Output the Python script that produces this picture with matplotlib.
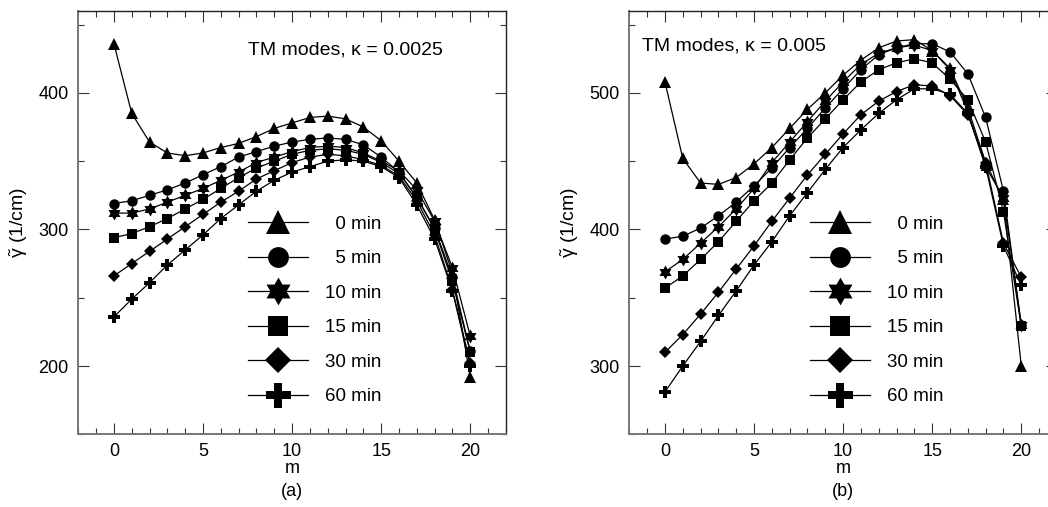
import numpy as np
import matplotlib.pyplot as plt
from matplotlib.ticker import MultipleLocator

plt.rcParams['font.family'] = ['Liberation Sans', 'DejaVu Sans']
plt.rcParams['mathtext.fontset'] = 'custom'
plt.rcParams['mathtext.rm'] = 'Liberation Sans'
plt.rcParams['mathtext.it'] = 'Liberation Sans'

m = list(range(21))
labels = ['\u20070 min', '\u20075 min', '10 min', '15 min', '30 min', '60 min']

# panel (a), kappa = 0.0025
a_0 = [436, 385, 364, 356, 354, 356, 360, 363, 368, 374, 378, 382, 383, 381, 375, 365, 350, 334, 307, 268, 192]
a_5 = [319, 321, 325, 329, 334, 340, 346, 353, 357, 361, 364, 366, 367, 366, 362, 353, 342, 323, 301, 265, 211]
a_10 = [312, 312, 315, 320, 325, 330, 336, 342, 349, 353, 357, 360, 361, 360, 356, 350, 343, 329, 306, 272, 222]
a_15 = [294, 297, 302, 308, 315, 322, 330, 338, 345, 350, 355, 358, 359, 358, 355, 349, 341, 324, 300, 262, 210]
a_30 = [266, 275, 284, 293, 302, 311, 320, 328, 337, 343, 349, 353, 355, 354, 351, 347, 339, 321, 296, 256, 202]
a_60 = [236, 249, 261, 274, 285, 296, 308, 318, 328, 336, 342, 346, 350, 351, 350, 346, 338, 318, 293, 255, 200]

# panel (b), kappa = 0.005
b_0 = [508, 452, 434, 433, 438, 448, 460, 474, 488, 500, 513, 524, 533, 538, 539, 531, 518, 489, 449, 422, 300]
b_5 = [393, 395, 401, 410, 420, 432, 445, 460, 474, 489, 503, 517, 528, 533, 536, 536, 530, 514, 482, 428, 330]
b_10 = [369, 378, 390, 402, 415, 430, 449, 464, 479, 494, 508, 521, 529, 533, 535, 531, 517, 486, 446, 423, 330]
b_15 = [357, 366, 378, 391, 406, 421, 434, 451, 467, 481, 495, 508, 517, 522, 525, 522, 510, 495, 464, 413, 329]
b_30 = [310, 323, 338, 354, 371, 388, 406, 423, 440, 455, 470, 484, 494, 501, 506, 505, 498, 484, 449, 390, 365]
b_60 = [281, 300, 318, 337, 355, 374, 391, 410, 427, 444, 460, 473, 485, 495, 503, 503, 499, 485, 446, 388, 359]


def hexagram():
    ang = np.pi / 2 + np.arange(12) * np.pi / 6
    r = np.where(np.arange(12) % 2 == 0, 1.0, 0.577)
    return list(zip(r * np.cos(ang), r * np.sin(ang)))


markers = ['^', 'o', hexagram(), 's', 'D', 'P']
sizes = [8.5, 7.5, 10, 7, 6.5, 9]


def draw_panel(ax, series, ylim, yticks, note, note_xy, leg_xy, tag):
    for ys, mk, ms, lab in zip(series, markers, sizes, labels):
        ax.plot(m, ys, color='k', lw=0.9, marker=mk, ms=ms, mew=0, label=lab)

    ax.set_xlim(-2, 22)
    ax.set_ylim(*ylim)
    ax.set_xticks([0, 5, 10, 15, 20])
    ax.set_yticks(yticks)
    ax.xaxis.set_minor_locator(MultipleLocator(1))
    ax.yaxis.set_minor_locator(MultipleLocator(50))
    ax.tick_params(which='both', direction='in', top=True, right=True,
                   labelsize=13, width=0.8, color='#333333')
    ax.tick_params(which='major', length=8)
    ax.tick_params(which='minor', length=4)
    ax.tick_params(axis='y', pad=7)
    ax.tick_params(axis='x', pad=6)
    for side in ['left', 'bottom']:
        ax.spines[side].set_color('#777777')
        ax.spines[side].set_linewidth(1.4)
    for side in ['top', 'right']:
        ax.spines[side].set_color('#222222')
        ax.spines[side].set_linewidth(1.0)

    ax.set_ylabel(r'$\tilde{\gamma}$ (1/cm)', fontsize=14, labelpad=6)
    ax.text(0.5, -0.06, 'm', transform=ax.transAxes, ha='center', va='top', fontsize=13)
    ax.text(0.5, -0.115, tag, transform=ax.transAxes, ha='center', va='top', fontsize=13)
    ax.text(note_xy[0], note_xy[1], note, transform=ax.transAxes, ha='left', va='center',
            fontsize=14)

    ax.legend(loc='upper left', bbox_to_anchor=leg_xy, frameon=False, fontsize=13.5,
              markerscale=2.0, handlelength=3.2, handletextpad=0.9, labelspacing=0.93,
              borderpad=0, borderaxespad=0)


fig = plt.figure(figsize=(10.48, 5.07), dpi=100)
ax1 = fig.add_axes([0.0747, 0.1434, 0.408, 0.835])
ax2 = fig.add_axes([0.6005, 0.1434, 0.408, 0.835])

draw_panel(ax1, [a_0, a_5, a_10, a_15, a_30, a_60], (150, 460), [200, 300, 400],
           'TM modes, \u03ba = 0.0025', (0.397, 0.908), (0.397, 0.517), '(a)')
draw_panel(ax2, [b_0, b_5, b_10, b_15, b_30, b_60], (250, 560), [300, 400, 500],
           'TM modes, \u03ba = 0.005', (0.03, 0.918), (0.423, 0.517), '(b)')

fig.savefig('out.png', dpi=100)
